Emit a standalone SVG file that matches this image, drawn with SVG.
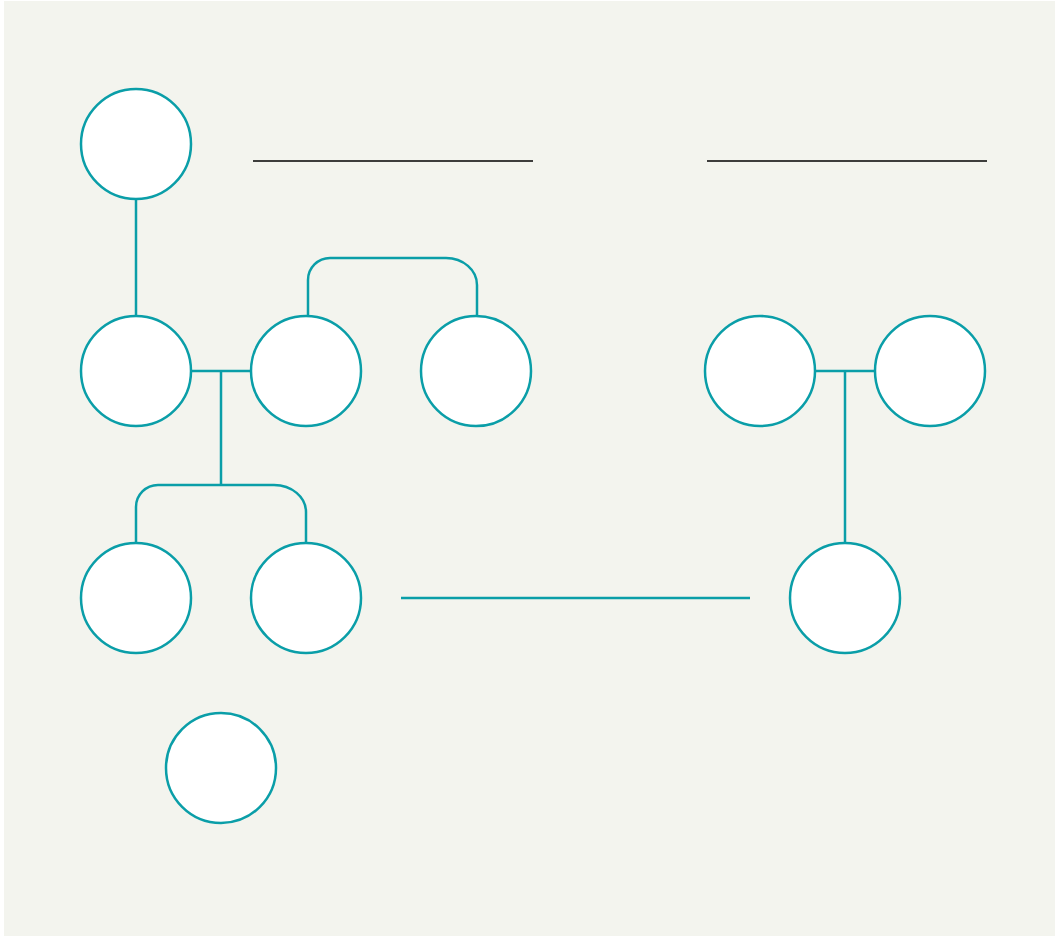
<svg xmlns="http://www.w3.org/2000/svg" width="1055" height="937" viewBox="0 0 1055 937">
<style>
.node{fill:#ffffff;stroke:#0a9ea8;stroke-width:2.5}
.conn{fill:none;stroke:#0a9ea8;stroke-width:2.5}
.rule{stroke:#000000;stroke-width:1.4}
</style>
<rect x="0" y="0" width="1055" height="937" fill="#ffffff"/>
<rect x="4" y="1" width="1051" height="935" fill="#f3f4ee"/>
<g id="rules">
<line class="rule" x1="253" y1="161" x2="533" y2="161"/>
<line class="rule" x1="707" y1="161" x2="987" y2="161"/>
</g>
<g id="connectors">
<line class="conn" x1="136" y1="199" x2="136" y2="316"/>
<line class="conn" x1="191" y1="371" x2="251" y2="371"/>
<line class="conn" x1="221" y1="371" x2="221" y2="485"/>
<path class="conn" d="M136,543 V507 A22,22 0 0 1 158,485 H274 A32,27 0 0 1 306,512 V543"/>
<path class="conn" d="M308,316 V280 A22,22 0 0 1 330,258 H446 A31,27 0 0 1 477,285 V316"/>
<line class="conn" x1="815" y1="371" x2="875" y2="371"/>
<line class="conn" x1="845" y1="371" x2="845" y2="543"/>
<line class="conn" x1="401" y1="598" x2="750" y2="598"/>
</g>
<g id="n1"><circle class="node" cx="136" cy="144" r="55"/></g>
<g id="n2"><circle class="node" cx="136" cy="371" r="55"/></g>
<g id="n3"><circle class="node" cx="306" cy="371" r="55"/></g>
<g id="n4"><circle class="node" cx="476" cy="371" r="55"/></g>
<g id="n5"><circle class="node" cx="760" cy="371" r="55"/></g>
<g id="n6"><circle class="node" cx="930" cy="371" r="55"/></g>
<g id="n7"><circle class="node" cx="136" cy="598" r="55"/></g>
<g id="n8"><circle class="node" cx="306" cy="598" r="55"/></g>
<g id="n9"><circle class="node" cx="845" cy="598" r="55"/></g>
<g id="n10"><circle class="node" cx="221" cy="768" r="55"/></g>
</svg>
